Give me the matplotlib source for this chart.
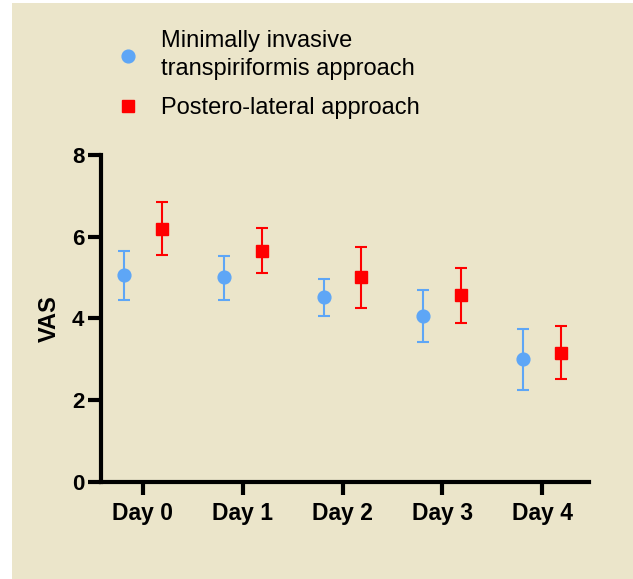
#!/usr/bin/env python3
# -*- coding: utf-8 -*-

import matplotlib
matplotlib.use("Agg")
import matplotlib.pyplot as plt
from matplotlib.lines import Line2D
from matplotlib.patches import Rectangle

# DATA
days = ["Day 0", "Day 1", "Day 2", "Day 3", "Day 4"]
series_labels = ["Minimally invasive\ntranspiriformis approach", "Postero-lateral approach"]

mi_mean = [5.05, 5.00, 4.51, 4.05, 3.00]
mi_low = [4.44, 4.44, 4.05, 3.42, 2.25]
mi_high = [5.66, 5.53, 4.95, 4.69, 3.74]

pl_mean = [6.18, 5.66, 5.00, 4.56, 3.16]
pl_low = [5.54, 5.11, 4.24, 3.89, 2.52]
pl_high = [6.84, 6.20, 5.74, 5.23, 3.80]

blue = "#5ea6f6"
red = "#ff0000"
bg = "#ebe5ca"

plt.rcParams["font.family"] = ["Liberation Sans", "DejaVu Sans"]

fig = plt.figure(figsize=(6.33, 5.79), dpi=100, facecolor="white")
fig.patches.append(Rectangle((12 / 633, 0), 1, 1 - 3 / 579, transform=fig.transFigure,
                             facecolor=bg, edgecolor="none", zorder=-10))

ax = fig.add_axes([101 / 633, 97.5 / 579, 488 / 633, 326.5 / 579])
ax.set_facecolor("none")

x = list(range(len(days)))
off = 0.19
x_mi = [i - off for i in x]
x_pl = [i + off for i in x]

err_mi = [[m - l for m, l in zip(mi_mean, mi_low)], [h - m for m, h in zip(mi_mean, mi_high)]]
err_pl = [[m - l for m, l in zip(pl_mean, pl_low)], [h - m for m, h in zip(pl_mean, pl_high)]]

ax.errorbar(x_mi, mi_mean, yerr=err_mi, fmt="o", color=blue, ms=9.2,
            elinewidth=1.5, capsize=4, capthick=1.5, clip_on=False)
ax.errorbar(x_pl, pl_mean, yerr=err_pl, fmt="s", color=red, ms=8.7,
            elinewidth=1.5, capsize=4, capthick=1.5, clip_on=False)

ax.set_xlim(-0.42, 4.47)
ax.set_ylim(0, 8)
ax.set_xticks(x)
ax.set_xticklabels(days, fontsize=16.5, fontweight="bold")
ax.set_yticks([0, 2, 4, 6, 8])
ax.set_yticklabels(["0", "2", "4", "6", "8"], fontsize=16, fontweight="bold")
ax.set_ylabel("VAS", fontsize=17, fontweight="bold", labelpad=8)

for side in ["top", "right"]:
    ax.spines[side].set_visible(False)
for side in ["left", "bottom"]:
    ax.spines[side].set_linewidth(3)
    ax.spines[side].set_capstyle("projecting")
ax.tick_params(axis="y", length=9.5, width=3, pad=2.5)
ax.tick_params(axis="x", length=9.5, width=3, pad=5)

handles = [
    Line2D([], [], marker="o", ls="", color=blue, ms=9.2, label=series_labels[0]),
    Line2D([], [], marker="s", ls="", color=red, ms=8.5, label=series_labels[1]),
]
leg = fig.legend(handles=handles, loc="upper left", bbox_to_anchor=(93 / 633, 1 - 9 / 579),
                 frameon=False, fontsize=17, handletextpad=0.8, labelspacing=0.72,
                 handlelength=1.2)
for t in leg.get_texts():
    t.set_linespacing(1.36)

fig.savefig("out.png", dpi=100, facecolor="white")
